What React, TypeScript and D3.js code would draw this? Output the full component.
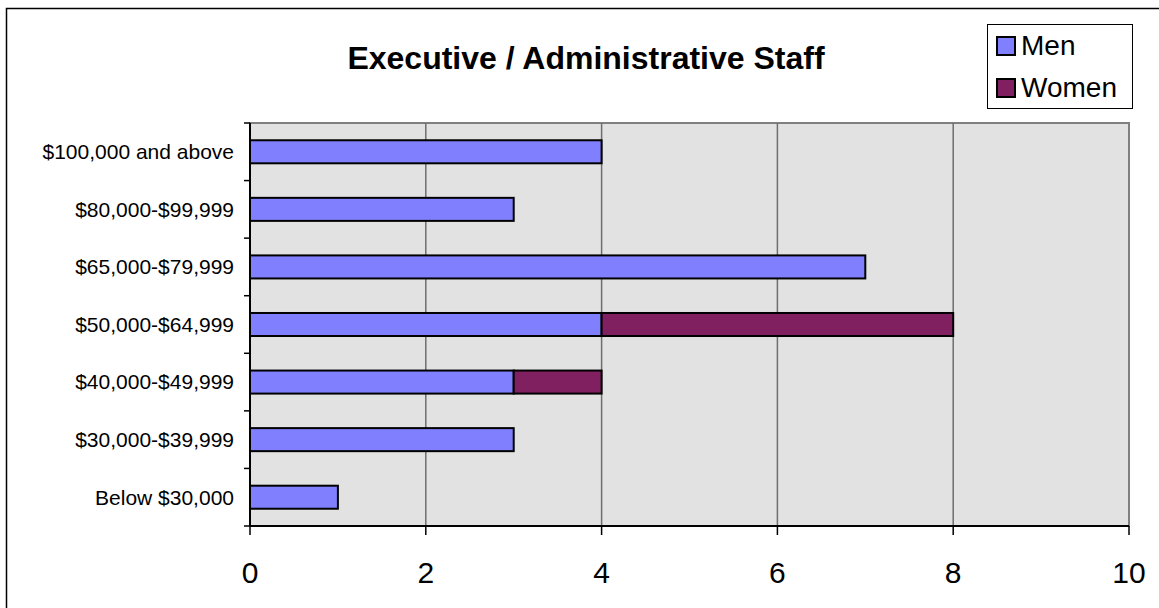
import * as d3 from "d3";

const categories = [
  "$100,000 and above",
  "$80,000-$99,999",
  "$65,000-$79,999",
  "$50,000-$64,999",
  "$40,000-$49,999",
  "$30,000-$39,999",
  "Below $30,000",
];
const menValues = [4, 3, 7, 4, 3, 3, 1];
const womenValues = [0, 0, 0, 4, 1, 0, 0];
const xTicks = [0, 2, 4, 6, 8, 10];
const seriesNames = ["Men", "Women"];
const seriesColors = ["#8080ff", "#802060"];

const FONT = "'Liberation Sans', Arial, Helvetica, sans-serif";

export default function App() {
  const width = 1159;
  const height = 608;
  const plot = { left: 250, right: 1129, top: 123, bottom: 526 };

  const x = d3.scaleLinear().domain([0, 10]).range([plot.left, plot.right]);
  const y = d3
    .scaleBand<string>()
    .domain(categories)
    .range([plot.top, plot.bottom])
    .paddingInner(0.6)
    .paddingOuter(0.3);
  const bandEdges = d3
    .scaleBand<string>()
    .domain(categories)
    .range([plot.top, plot.bottom]);

  const stacked = categories.map((c, i) => ({
    cat: c,
    segs: [
      { x0: 0, x1: menValues[i], color: seriesColors[0] },
      { x0: menValues[i], x1: menValues[i] + womenValues[i], color: seriesColors[1] },
    ].filter((s) => s.x1 > s.x0),
  }));

  return (
    <svg
      width={width}
      height={height}
      style={{ position: "absolute", left: 0, top: 0, fontFamily: FONT }}
    >
      <rect x={0} y={0} width={width} height={height} fill="#fff" />
      {/* outer chart border */}
      <rect
        x={6.5}
        y={8.5}
        width={1400}
        height={900}
        fill="none"
        stroke="#000"
        strokeWidth={1.5}
      />

      {/* plot area */}
      <rect
        x={plot.left}
        y={plot.top}
        width={plot.right - plot.left}
        height={plot.bottom - plot.top}
        fill="#e2e2e2"
        stroke="#808080"
        strokeWidth={2}
      />

      {/* vertical gridlines */}
      {xTicks.slice(1, -1).map((t) => (
        <line
          key={t}
          x1={x(t)}
          x2={x(t)}
          y1={plot.top}
          y2={plot.bottom}
          stroke="#6e6e6e"
          strokeWidth={1.5}
        />
      ))}

      {/* bars */}
      {stacked.map((row) =>
        row.segs.map((s, j) => (
          <rect
            key={row.cat + j}
            x={x(s.x0)}
            y={y(row.cat)}
            width={x(s.x1) - x(s.x0)}
            height={y.bandwidth()}
            fill={s.color}
            stroke="#000"
            strokeWidth={2}
          />
        ))
      )}

      {/* left axis */}
      <line x1={plot.left} x2={plot.left} y1={plot.top} y2={plot.bottom} stroke="#000" strokeWidth={2} />
      {[...categories.map((c) => bandEdges(c)!), plot.bottom].map((yy, i) => (
        <line key={i} x1={plot.left - 6} x2={plot.left} y1={yy} y2={yy} stroke="#000" strokeWidth={1.5} />
      ))}
      {categories.map((c) => (
        <text
          key={c}
          x={plot.left - 16}
          y={bandEdges(c)! + bandEdges.bandwidth() / 2}
          dy="0.35em"
          textAnchor="end"
          fontSize={21}
          fill="#000"
        >
          {c}
        </text>
      ))}

      {/* bottom axis */}
      <line x1={plot.left} x2={plot.right} y1={plot.bottom} y2={plot.bottom} stroke="#000" strokeWidth={2} />
      {xTicks.map((t) => (
        <g key={t}>
          <line x1={x(t)} x2={x(t)} y1={plot.bottom} y2={plot.bottom + 9} stroke="#000" strokeWidth={1.5} />
          <text x={x(t)} y={583} textAnchor="middle" fontSize={30} fill="#000">
            {t}
          </text>
        </g>
      ))}

      {/* title */}
      <text x={586} y={69} textAnchor="middle" fontSize={32} fontWeight="bold" fill="#000">
        Executive / Administrative Staff
      </text>

      {/* legend */}
      <rect x={987.5} y={24.5} width={145} height={84} fill="#fff" stroke="#000" strokeWidth={1} />
      {seriesNames.map((name, i) => (
        <g key={name} transform={`translate(996, ${36 + i * 42})`}>
          <rect x={1} y={1} width={18} height={18} fill={seriesColors[i]} stroke="#000" strokeWidth={2} />
          <text x={25} y={19} fontSize={28} fill="#000">
            {name}
          </text>
        </g>
      ))}
    </svg>
  );
}
